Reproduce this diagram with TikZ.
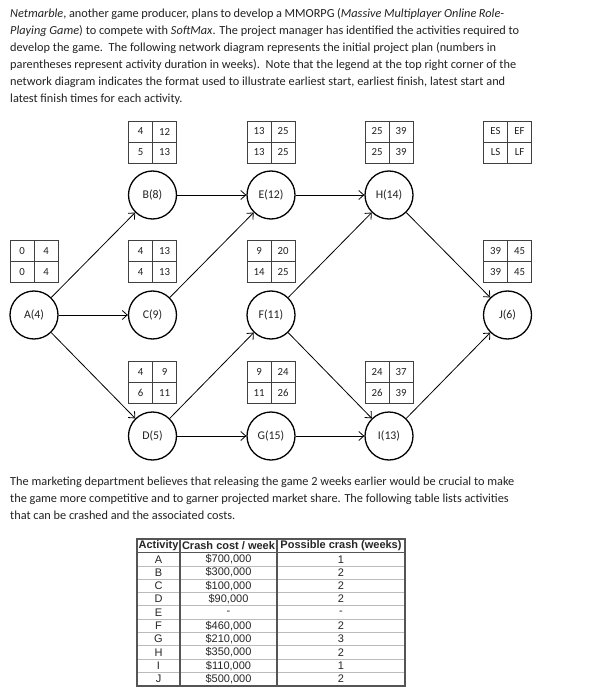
\documentclass[tikz,border=0pt]{standalone}
\usepackage{fontspec}
\setmainfont{Carlito}
\newfontfamily\arialf{Liberation Sans}
\usetikzlibrary{arrows.meta}
\definecolor{ink}{HTML}{222222}
\definecolor{tgrid}{HTML}{555555}
\definecolor{tlight}{HTML}{BBBBBB}
\newcommand\tbox[7]{%
  \node[cell] (#1tl) at ({#2-12},{#3-10.5}) {#4};
  \node[cell] (#1tr) at ({#2+12},{#3-10.5}) {#5};
  \node[cell] (#1bl) at ({#2-12},{#3+10.5}) {#6};
  \node[cell] (#1br) at ({#2+12},{#3+10.5}) {#7};}
\newcommand\fline[2]{\makebox[#1pt][s]{#2}}
\begin{document}
\begin{tikzpicture}[x=1pt,y=-1pt,
  txt/.style={anchor=base west,inner sep=0pt,text=ink,font=\fontsize{12.3}{17}\selectfont},
  act/.style={circle,draw=black,line width=1.3pt,minimum size=48pt,inner sep=0pt,text=ink,font=\fontsize{11.8}{13}\selectfont},
  cell/.style={draw=black!75,line width=0.7pt,minimum width=24pt,minimum height=21pt,inner sep=0pt,text=ink,font=\fontsize{10.8}{13}\selectfont},
  arr/.style={-{Straight Barb[length=5pt,width=9pt]},line width=0.8pt,draw=black},
  tt/.style={inner sep=0pt,text=black!85,font=\arialf\fontsize{11}{12}\selectfont},
  th/.style={tt,font=\arialf\bfseries\fontsize{11}{12}\selectfont}]
\useasboundingbox[fill=white] (0,0) rectangle (592,700);
% paragraph 1
\node[txt] (p1) at (10,18) {\fline{494}{\textit{Netmarble}, another game producer, plans to develop a MMORPG (\textit{Massive Multiplayer Online Role-}}};
\node[txt] (p2) at (10,35) {\fline{509}{\textit{Playing Game}) to compete with \textit{SoftMax}. The project manager has identified the activities required to}};
\node[txt] (p3) at (10,52) {\fline{486}{develop the game.\ \ The following network diagram represents the initial project plan (numbers in}};
\node[txt] (p4) at (10,69) {\fline{506}{parentheses represent activity duration in weeks).\ \ Note that the legend at the top right corner of the}};
\node[txt] (p5) at (10,86) {\fline{495}{network diagram indicates the format used to illustrate earliest start, earliest finish, latest start and}};
\node[txt] (p6) at (10,103) {latest finish times for each activity.};
% activity nodes
\node[act] (A) at (34,315) {A(4)};
\node[act] (B) at (152.5,195) {B(8)};
\node[act] (C) at (152.5,315) {C(9)};
\node[act] (D) at (152.5,436) {D(5)};
\node[act] (E) at (271,195) {E(12)};
\node[act] (F) at (271,315) {F(11)};
\node[act] (G) at (271,436) {G(15)};
\node[act] (H) at (389,195) {H(14)};
\node[act] (I) at (389,436) {I(13)};
\node[act] (J) at (507.5,315) {J(6)};
% time boxes
\tbox{tB}{152.5}{142}{4}{12}{5}{13}
\tbox{tE}{271}{142}{13}{25}{13}{25}
\tbox{tH}{389}{142}{25}{39}{25}{39}
\tbox{tL}{507.5}{142}{ES}{EF}{LS}{LF}
\tbox{tA}{34}{261.5}{0}{4}{0}{4}
\tbox{tC}{152.5}{261.5}{4}{13}{4}{13}
\tbox{tF}{271}{261.5}{9}{20}{14}{25}
\tbox{tJ}{507.5}{261.5}{39}{45}{39}{45}
\tbox{tD}{152.5}{382.5}{4}{9}{6}{11}
\tbox{tG}{271}{382.5}{9}{24}{11}{26}
\tbox{tI}{389}{382.5}{24}{37}{26}{39}
% connectors
\draw[arr] (A) -- (B);
\draw[arr] (A) -- (C);
\draw[arr] (A) -- (D);
\draw[arr] (B) -- (E);
\draw[arr] (C) -- (E);
\draw[arr] (D) -- (F);
\draw[arr] (D) -- (G);
\draw[arr] (E) -- (H);
\draw[arr] (F) -- (H);
\draw[arr] (F) -- (I);
\draw[arr] (G) -- (I);
\draw[arr] (H) -- (J);
\draw[arr] (I) -- (J);
% paragraph 2
\node[txt] (q1) at (10,485) {The marketing department believes that releasing the game 2 weeks earlier would be crucial to make};
\node[txt] (q2) at (10,502) {the game more competitive and to garner projected market share. The following table lists activities};
\node[txt] (q3) at (10,519) {that can be crashed and the associated costs.};
% crash table
\foreach \i in {1,...,9}{\draw[tlight,line width=0.8pt] (137,{552.6+13.3*\i}) -- (405,{552.6+13.3*\i});}
\draw[tgrid,line width=1pt] (137,552.6) -- (405,552.6);
\draw[tgrid,line width=1.2pt] (180,539) -- (180,685.6);
\draw[tgrid,line width=1.2pt] (277,539) -- (277,685.6);
\draw[tgrid,line width=1.8pt] (137,539) rectangle (405,685.6);
\node[th] (h1) at (158.5,546) {Activity};
\node[th] (h2) at (228.5,546) {Crash cost / week};
\node[th] (h3) at (341,546) {Possible crash (weeks)};
\foreach \a/\c/\p [count=\i] in {A/{\$700,000}/1,B/{\$300,000}/2,C/{\$100,000}/2,D/{\$90,000}/2,E/-/-,F/{\$460,000}/2,G/{\$210,000}/3,H/{\$350,000}/2,I/{\$110,000}/1,J/{\$500,000}/2}{
  \node[tt] (ra\i) at (158.5,{552.6+13.3*(\i-0.5)}) {\a};
  \node[tt] (rc\i) at (228.5,{552.6+13.3*(\i-0.5)}) {\c};
  \node[tt] (rp\i) at (341,{552.6+13.3*(\i-0.5)}) {\p};
}
\end{tikzpicture}
\end{document}
